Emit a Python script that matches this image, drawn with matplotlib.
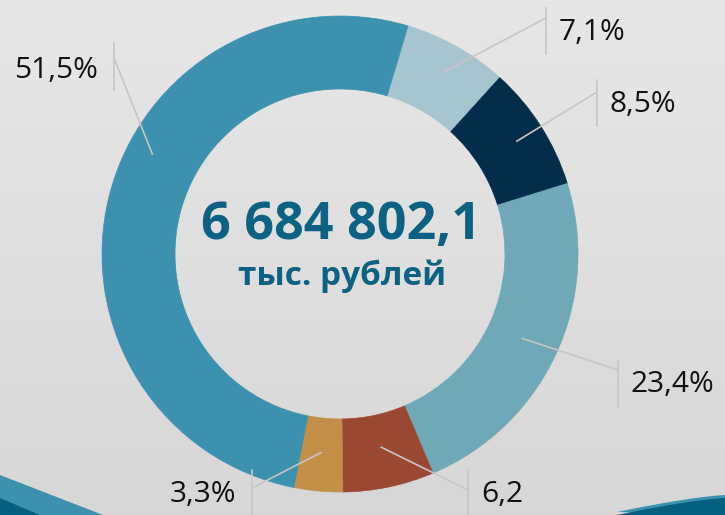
import matplotlib
matplotlib.use('agg')
import matplotlib.pyplot as plt
import numpy as np

plt.rcParams['font.family'] = ['Open Sans', 'DejaVu Sans']

# data
shares = [7.1, 8.5, 23.4, 6.2, 3.3, 51.5]
labels = ['7,1%', '8,5%', '23,4%', '6,2', '3,3%', '51,5%']
colors = ['#A7C5CF', '#032E4B', '#6FA8B8', '#9A4832', '#C38E48', '#3B91AE']
total_text = '6 684 802,1'
unit_text = 'тыс. рублей'

W, H = 725, 515
CX, CY = 340, H - 254
R_OUT, RING = 238, 73

# label layout in picture pixels (x of bar, bar top, bar bottom, elbow y, text y, side)
bar_x = [546, 597, 618, 468, 252, 114]
bar_top = [8, 80, 361, 470, 470, 43]
bar_bot = [54, 126, 407, 520, 520, 90]
elbow_y = [18, 92, 370, 490, 488, 58]
text_y = [33, 105, 385, 495, 495, 70]
side = ['r', 'r', 'r', 'r', 'l', 'l']
anchor_shift = [0, 0, 0, 0, 0, 14]   # degrees, anchor moved off wedge middle
anchor_r = [208, 209, 200, 197, 199, 212]

fig = plt.figure(figsize=(W / 100, H / 100), dpi=100)
ax = fig.add_axes([0, 0, 1, 1])

# background gradient
grad = np.linspace(0, 1, 256).reshape(-1, 1)
top = np.array([0.906, 0.906, 0.906])
bot = np.array([0.843, 0.843, 0.843])
img = top + (bot - top) * grad[:, :, None]
ax.imshow(img, extent=[0, W, 0, H], aspect='auto', zorder=0)

# waves at the bottom
ax.fill([0, 103, 0], [40, 0, 0], color='#3B91AE', lw=0, zorder=1)
ax.fill([0, 40, 0], [17, 0, 0], color='#05607F', lw=0, zorder=1)
t = np.linspace(0, 1, 50)
wx = (1 - t) ** 2 * 617 + 2 * (1 - t) * t * 690 + t ** 2 * 725
wy = (1 - t) ** 2 * 0 + 2 * (1 - t) * t * 15 + t ** 2 * 17
ax.fill(np.r_[wx, 725, 725], np.r_[wy + 3, 22, 0], color='#3B91AE', lw=0, zorder=1)
ax.fill(np.r_[wx, 725], np.r_[wy, 0], color='#05607F', lw=0, zorder=1)

start = 73.4
wedges, _ = ax.pie(shares, colors=colors, startangle=start, counterclock=False,
                   center=(CX, CY), radius=R_OUT,
                   wedgeprops=dict(width=RING, linewidth=0.5))
for w in wedges:
    w.set_edgecolor(w.get_facecolor())
    w.set_zorder(2)

# leader lines and labels
cum = 0
for i, s in enumerate(shares):
    mid = start - (cum + s / 2) * 3.6 - anchor_shift[i]
    cum += s
    a = np.deg2rad(mid)
    x0 = CX + anchor_r[i] * np.cos(a)
    y0 = CY + anchor_r[i] * np.sin(a)
    ax.plot([x0, bar_x[i]], [y0, H - elbow_y[i]], color='#C6C6C6', lw=1.2,
            zorder=3, solid_capstyle='butt')
    ax.plot([bar_x[i], bar_x[i]], [H - bar_top[i], H - bar_bot[i]],
            color='#C6C6C6', lw=1.2, zorder=3)
    if side[i] == 'r':
        ax.text(bar_x[i] + 13, H - text_y[i], labels[i], ha='left', va='center',
                fontsize=21.5, fontweight='normal', color='#111111', zorder=4)
    else:
        ax.text(bar_x[i] - 16, H - text_y[i], labels[i], ha='right', va='center',
                fontsize=21.5, fontweight='normal', color='#111111', zorder=4)

ax.text(CX + 1, H - 225, total_text, ha='center', va='center', fontsize=37.5,
        fontweight='bold', color='#0B6282', zorder=4)
ax.text(CX + 2, H - 276, unit_text, ha='center', va='center', fontsize=24,
        fontweight='bold', color='#0B6282', zorder=4)

ax.set_xlim(0, W)
ax.set_ylim(0, H)
ax.set_aspect('auto')
ax.set_axis_off()

plt.savefig('out.png', dpi=100)
plt.close()
